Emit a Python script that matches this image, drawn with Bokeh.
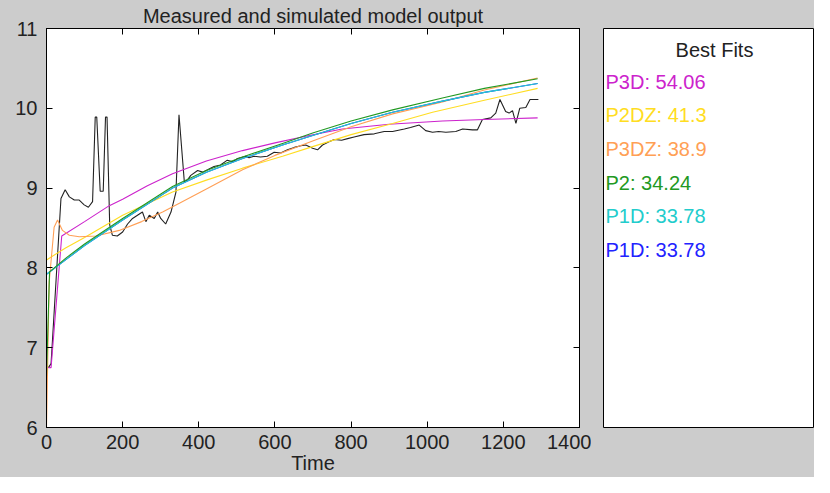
from bokeh.plotting import figure
from bokeh.models import Range1d, LinearAxis, FixedTicker, ColumnDataSource, CustomJSTickFormatter
from bokeh.layouts import row
from bokeh.embed import file_html
from bokeh.resources import INLINE
from bokeh.core.properties import value

# ---------------- data ----------------
x_ticks = [0, 200, 400, 600, 800, 1000, 1200, 1400]
y_ticks = [6, 7, 8, 9, 10, 11]

meas_t = [5, 12, 38, 49, 60, 73, 86, 99, 110, 121, 128, 132, 141, 149, 155, 159, 166, 173, 186, 200,
          213, 226, 239, 252, 261, 270, 283, 292, 300, 313, 327, 340, 348, 362, 370, 379, 397, 410, 423,
          440, 457, 475, 489, 502, 523, 532, 545, 562, 580, 598, 615, 633, 651, 668, 681, 699, 712, 725,
          742, 756, 775, 791, 808, 834, 861, 887, 909, 940, 956, 979, 996, 1014, 1030, 1049, 1075, 1093,
          1119, 1132, 1145, 1167, 1180, 1191, 1206, 1215, 1224, 1233, 1243, 1259, 1270, 1292]
meas_v = [6.75, 6.80, 8.87, 8.98, 8.89, 8.85, 8.85, 8.79, 8.76, 8.83, 9.89, 9.89, 8.96, 8.96, 9.89, 9.89,
          8.54, 8.41, 8.40, 8.45, 8.55, 8.62, 8.66, 8.70, 8.58, 8.66, 8.62, 8.70, 8.62, 8.55, 8.70, 8.95,
          9.92, 9.08, 9.10, 9.16, 9.22, 9.20, 9.23, 9.27, 9.29, 9.35, 9.33, 9.37, 9.40, 9.38, 9.40, 9.39,
          9.40, 9.45, 9.44, 9.48, 9.51, 9.53, 9.54, 9.50, 9.48, 9.54, 9.58, 9.61, 9.60, 9.62, 9.64, 9.67,
          9.68, 9.71, 9.71, 9.74, 9.76, 9.79, 9.72, 9.70, 9.71, 9.70, 9.71, 9.74, 9.73, 9.73, 9.86, 9.88,
          9.94, 10.11, 9.96, 9.94, 9.97, 9.81, 10.00, 10.01, 10.11, 10.11]

p3d_t = [5, 12, 40, 100, 165, 200, 265, 331, 420, 515, 603, 690, 777, 900, 1040, 1150, 1290]
p3d_v = [6.75, 6.75, 8.40, 8.58, 8.78, 8.86, 9.03, 9.18, 9.34, 9.47, 9.57, 9.66, 9.74, 9.80, 9.84, 9.86, 9.88]

p2dz_t = [0, 50, 100, 200, 331, 420, 515, 620, 699, 800, 909, 1014, 1150, 1290]
p2dz_v = [8.10, 8.25, 8.38, 8.66, 8.95, 9.10, 9.25, 9.40, 9.52, 9.67, 9.81, 9.95, 10.10, 10.25]

p3dz_t = [0, 7, 20, 29, 42, 60, 86, 130, 191, 250, 305, 349, 420, 515, 600, 699, 800, 909, 1040, 1150, 1290]
p3dz_v = [6.0, 7.82, 8.51, 8.60, 8.47, 8.41, 8.39, 8.40, 8.47, 8.58, 8.70, 8.81, 8.99, 9.23, 9.41, 9.59,
          9.77, 9.93, 10.08, 10.23, 10.38]

p2_t = [0, 8, 50, 100, 200, 331, 420, 515, 620, 699, 800, 909, 1040, 1150, 1290]
p2_v = [6.65, 7.95, 8.12, 8.30, 8.62, 9.02, 9.22, 9.39, 9.56, 9.69, 9.84, 9.98, 10.13, 10.25, 10.37]

p1d_t = [0, 50, 100, 200, 331, 420, 515, 620, 699, 800, 909, 1040, 1150, 1290]
p1d_v = [7.92, 8.10, 8.28, 8.60, 9.00, 9.20, 9.37, 9.54, 9.66, 9.81, 9.95, 10.09, 10.20, 10.31]

legend_names = ["P3D", "P2DZ", "P3DZ", "P2", "P1D", "P1D"]
legend_scores = ["54.06", "41.3", "38.9", "34.24", "33.78", "33.78"]
legend_colors = ["#cc22cc", "#ffdd22", "#ff9f55", "#229922", "#22cccc", "#2222ff"]

# ---------------- style ----------------
FONT = "Liberation Sans"
FS = "20px"
GRAY = "#cccccc"
TXT = "#222222"

p = figure(width=591, height=477, output_backend="svg", toolbar_location=None,
           x_range=Range1d(0, 1400), y_range=Range1d(6, 11),
           title="Measured and simulated model output",
           min_border_left=46, min_border_right=12, min_border_top=28, min_border_bottom=50)
p.background_fill_color = "white"
p.border_fill_color = GRAY
p.outline_line_color = "black"
p.outline_line_width = 1
p.grid.visible = False

p.title.align = "center"
p.title.text_font = FONT
p.title.text_font_size = FS
p.title.text_font_style = "normal"
p.title.text_color = TXT
p.title.standoff = 4

for ax in (p.xaxis[0], p.yaxis[0]):
    ax.major_tick_in = 6
    ax.major_tick_out = 0
    ax.minor_tick_line_color = None
    ax.axis_line_color = "black"
    ax.major_tick_line_color = "black"
    ax.major_label_text_font = FONT
    ax.major_label_text_font_size = FS
    ax.major_label_text_color = TXT
p.xaxis[0].ticker = FixedTicker(ticks=x_ticks)
p.yaxis[0].ticker = FixedTicker(ticks=y_ticks)
p.xaxis[0].major_label_standoff = 7
p.yaxis[0].major_label_standoff = 9
p.xaxis[0].axis_label = "Time"
p.xaxis[0].axis_label_standoff = 0
p.xaxis[0].axis_label_text_font = FONT
p.xaxis[0].axis_label_text_font_size = FS
p.xaxis[0].axis_label_text_font_style = "normal"
p.xaxis[0].axis_label_text_color = TXT

blank = CustomJSTickFormatter(code="return ''")
top_ax = LinearAxis(ticker=FixedTicker(ticks=x_ticks), formatter=blank, major_tick_in=6, major_tick_out=0,
                    minor_tick_line_color=None, axis_line_color="black", major_label_standoff=0,
                    major_label_text_font_size="0px")
right_ax = LinearAxis(ticker=FixedTicker(ticks=y_ticks), formatter=blank, major_tick_in=6, major_tick_out=0,
                      minor_tick_line_color=None, axis_line_color="black", major_label_standoff=0,
                      major_label_text_font_size="0px")
p.add_layout(top_ax, "above")
p.add_layout(right_ax, "right")

LW = 1.1
p.line(meas_t, meas_v, line_color="#222222", line_width=LW)
p.line(p3d_t, p3d_v, line_color=legend_colors[0], line_width=LW)
p.line(p2dz_t, p2dz_v, line_color=legend_colors[1], line_width=LW)
p.line(p3dz_t, p3dz_v, line_color=legend_colors[2], line_width=LW)
p.line(p1d_t, p1d_v, line_color=legend_colors[5], line_width=LW)
p.line(p1d_t, p1d_v, line_color=legend_colors[4], line_width=LW)
p.line(p2_t, p2_v, line_color=legend_colors[3], line_width=LW)

# ---------------- legend panel ----------------
q = figure(width=223, height=477, output_backend="svg", toolbar_location=None,
           x_range=Range1d(0, 211), y_range=Range1d(398, 0),
           x_axis_location=None, y_axis_location=None,
           min_border_left=12, min_border_right=0, min_border_top=28, min_border_bottom=50)
q.background_fill_color = "white"
q.border_fill_color = GRAY
q.outline_line_color = "black"
q.grid.visible = False

q.text(x=[111], y=[21], text=["Best Fits"], text_align="center", text_baseline="middle",
       text_font=value(FONT), text_font_size=FS, text_color=TXT)

n = len(legend_names)
src = ColumnDataSource(dict(
    x=[2] * n,
    y=[53 + 33.6 * i for i in range(n)],
    t=[f"{a}: {b}" for a, b in zip(legend_names, legend_scores)],
    c=legend_colors,
))
q.text(x="x", y="y", text="t", text_color="c", source=src, text_align="left", text_baseline="middle",
       text_font=value(FONT), text_font_size=FS)

layout = row(p, q, styles={"background-color": GRAY})
open("out.html", "w").write(file_html(layout, INLINE))
